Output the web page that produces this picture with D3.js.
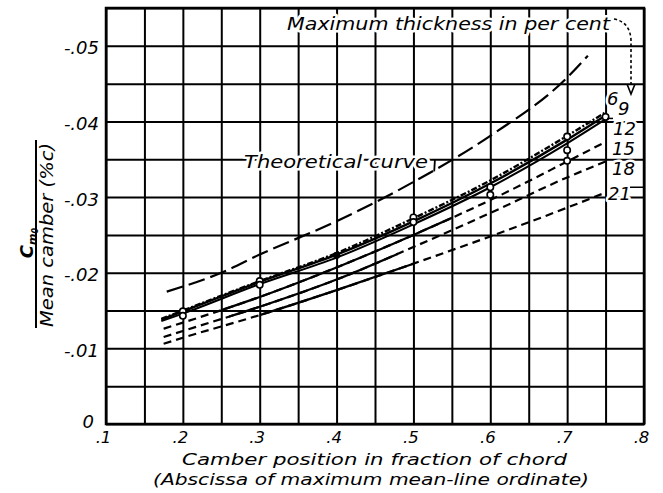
<!DOCTYPE html>
<html><head><meta charset="utf-8">
<script src="https://cdn.jsdelivr.net/npm/d3@7"></script>
<style>
body{margin:0;background:#fff;}
text{font-family:"DejaVu Sans",sans-serif;font-style:oblique;fill:#000;}
</style></head>
<body><svg id="c" width="663" height="493"></svg>
<script>
// ---- data ----
const xGridValues = [.1,.15,.2,.25,.3,.35,.4,.45,.5,.55,.6,.65,.7,.75,.8];
const yGridValues = [0,-.005,-.01,-.015,-.02,-.025,-.03,-.035,-.04,-.045,-.05,-.055];
const xTickValues = [.1,.2,.3,.4,.5,.6,.7,.8];
const xTickLabels = [".1",".2",".3",".4",".5",".6",".7",".8"];
const yTickValues = [0,-.01,-.02,-.03,-.04,-.05];
const yTickLabels = ["0","-.01","-.02","-.03","-.04","-.05"];

const theoX = [.179,.25,.3,.4,.5,.6,.7,.727];
const theoY = [-.0175,-.0200,-.0224,-.0268,-.0320,-.0381,-.0458,-.0487];

const curveX = [.172,.2,.3,.4,.5,.6,.7,.75];
const t6  = [-.0138,-.0149,-.0188,-.0224,-.0268,-.0318,-.0376,-.0408];
const t9  = [-.0139,-.0150,-.0189,-.0226,-.0272,-.0322,-.0381,-.0412];
const t12 = [-.0136,-.0146,-.0185,-.0220,-.0264,-.0313,-.0371,-.0403];
const curveX2 = [.175,.2,.3,.4,.5,.6,.7,.75];
const t15 = [-.0126,-.0134,-.0168,-.0207,-.0250,-.0296,-.0347,-.0373];
const t18 = [-.0115,-.0123,-.0155,-.0191,-.0234,-.0279,-.0326,-.0347];
const t21 = [-.0106,-.0114,-.0144,-.0177,-.0212,-.0248,-.0286,-.0306];

const thicknessLabels = ["6","9","12","15","18","21"];

const pointX = [.2,.2,.3,.3,.5,.5,.6,.6,.7,.7,.7,.75];
const pointY = [-.0149,-.0143,-.0189,-.0184,-.0273,-.0267,-.0313,-.0303,-.0380,-.0362,-.0348,-.0406];
const filledX = [.4];
const filledY = [-.0223];

// ---- chart ----
const svg = d3.select("#c");
const x = d3.scaleLinear().domain([.1,.8]).range([106,644]);
const y = d3.scaleLinear().domain([0,-.055]).range([424,8]);
const H = y(0)-y(-.055), W = x(.8)-x(.1);

// grid via axes
const gx = svg.append("g").attr("transform",`translate(0,${y(0)})`)
  .call(d3.axisBottom(x).tickValues(xGridValues).tickSize(-H).tickFormat(""));
const gy = svg.append("g").attr("transform",`translate(${x(.1)},0)`)
  .call(d3.axisLeft(y).tickValues(yGridValues).tickSize(-W).tickFormat(""));
[gx,gy].forEach(g=>{g.select(".domain").remove();
  g.selectAll(".tick line").attr("stroke","#000").attr("stroke-width",2);});

svg.append("rect").attr("x",x(.1)).attr("y",y(-.055)).attr("width",W).attr("height",H)
  .attr("fill","none").attr("stroke","#000").attr("stroke-width",2.5);

// tick labels via axes
const lx = svg.append("g").attr("transform",`translate(0,${y(0)})`)
  .call(d3.axisBottom(x).tickValues(xTickValues).tickSize(0).tickPadding(6)
    .tickFormat((d,i)=>xTickLabels[i]));
lx.select(".domain").remove();
lx.selectAll("text").attr("font-size",16.5).attr("font-family","DejaVu Sans").attr("dx",-3).attr("dy","0.8em");
const ly = svg.append("g").attr("transform",`translate(${x(.1)},0)`)
  .call(d3.axisLeft(y).tickValues(yTickValues).tickSize(0).tickPadding(7)
    .tickFormat((d,i)=>yTickLabels[i]));
ly.select(".domain").remove();
ly.selectAll("text").attr("font-size",18).attr("font-family","DejaVu Sans").attr("dy","0.45em");
ly.selectAll("text").filter(d=>d===0).attr("dx",-5).attr("dy","0.2em");

// halo helper
function halo(t){ return t.attr("stroke","#fff").attr("stroke-width",5).attr("paint-order","stroke").attr("stroke-linejoin","round"); }

// curves
const line = d3.line().x(d=>x(d[0])).y(d=>y(d[1])).curve(d3.curveMonotoneX);
const zip = (a,b)=>a.map((v,i)=>[v,b[i]]);
const defs = svg.append("defs");
function clip(id,a,b){
  defs.append("clipPath").attr("id",id).append("rect")
    .attr("x",x(a)).attr("y",0).attr("width",x(b)-x(a)).attr("height",493);
  return `url(#${id})`;
}
function dashedSolid(data,a,b,id){
  svg.append("path").attr("d",line(data)).attr("fill","none").attr("stroke","#000")
    .attr("stroke-width",2.2).attr("stroke-dasharray","8,5");
  svg.append("path").attr("d",line(data)).attr("fill","none").attr("stroke","#000")
    .attr("stroke-width",2.2).attr("clip-path",clip(id,a,b));
}

// theoretical
svg.append("path").attr("d",line(zip(theoX,theoY))).attr("fill","none").attr("stroke","#000")
  .attr("stroke-width",2.2).attr("stroke-dasharray","17,6");

svg.append("path").attr("d",line(zip(curveX,t6))).attr("fill","none").attr("stroke","#000").attr("stroke-width",2.4);
svg.append("path").attr("d",line(zip(curveX,t12))).attr("fill","none").attr("stroke","#000").attr("stroke-width",2);
svg.append("path").attr("d",line(zip(curveX,t9))).attr("fill","none").attr("stroke","#000").attr("stroke-width",2.4)
  .attr("stroke-dasharray","6,2,2,2");
dashedSolid(zip(curveX2,t15),.25,.55,"c15");
dashedSolid(zip(curveX2,t18),.26,.48,"c18");
dashedSolid(zip(curveX2,t21),.30,.50,"c21");

// points
svg.selectAll("circle.o").data(zip(pointX,pointY)).join("circle")
  .attr("cx",d=>x(d[0])).attr("cy",d=>y(d[1])).attr("r",3.2)
  .attr("fill","#fff").attr("stroke","#000").attr("stroke-width",1.6);
svg.selectAll("circle.f").data(zip(filledX,filledY)).join("circle")
  .attr("cx",d=>x(d[0])).attr("cy",d=>y(d[1])).attr("r",3.6).attr("fill","#000");

// thickness labels
const labX = [607,618,613,612,612,608];
const labY = [105,115,135,155,175,200];
thicknessLabels.forEach((t,i)=>{
  halo(svg.append("text").attr("x",labX[i]).attr("y",labY[i]).attr("font-size",18).text(t));
});
// leaders
svg.append("line").attr("x1",x(.752)).attr("y1",y(-.0404)).attr("x2",613).attr("y2",y(-.0404))
  .attr("stroke","#000").attr("stroke-width",1.5);
svg.append("line").attr("x1",630).attr("y1",y(-.0313)).attr("x2",x(.8)).attr("y2",y(-.0313))
  .attr("stroke","#000").attr("stroke-width",1.5);

// top annotation
halo(svg.append("text").attr("x",287).attr("y",30).attr("font-size",17.5)
  .attr("textLength",323).attr("lengthAdjust","spacingAndGlyphs").text("Maximum thickness in per cent"));
svg.append("path").attr("d","M614,19 Q630,22 631,40 L631,86")
  .attr("fill","none").attr("stroke","#000").attr("stroke-width",1.6).attr("stroke-dasharray","3,2.5");
svg.append("path").attr("d","M627,84 L631,94 L635,84").attr("fill","none").attr("stroke","#000").attr("stroke-width",1.6);

// theoretical label
halo(svg.append("text").attr("x",244).attr("y",168).attr("font-size",17.5)
  .attr("textLength",184).attr("lengthAdjust","spacingAndGlyphs").text("Theoretical curve"));
svg.append("line").attr("x1",x(.528)).attr("y1",y(-.035)).attr("x2",x(.527)).attr("y2",y(-.0334))
  .attr("stroke","#000").attr("stroke-width",1.8);

// x axis titles
svg.append("text").attr("x",182).attr("y",465).attr("font-size",16.5)
  .attr("textLength",385).attr("lengthAdjust","spacingAndGlyphs").text("Camber position in fraction of chord");
svg.append("text").attr("x",153).attr("y",485).attr("font-size",16.5)
  .attr("textLength",436).attr("lengthAdjust","spacingAndGlyphs").text("(Abscissa of maximum mean-line ordinate)");

// y axis title (fraction)
svg.append("line").attr("x1",36).attr("y1",140).attr("x2",36).attr("y2",328).attr("stroke","#000").attr("stroke-width",2);
svg.append("text").attr("transform","translate(53,235) rotate(-90)").attr("text-anchor","middle")
  .attr("font-size",17.5).attr("textLength",184).attr("lengthAdjust","spacingAndGlyphs").text("Mean camber (%c)");
const num = svg.append("text").attr("transform","translate(33,243) rotate(-90)").attr("text-anchor","middle")
  .attr("font-size",18).attr("font-weight","bold");
num.append("tspan").text("C");
num.append("tspan").attr("font-size",11).attr("dy",3).text("m");
num.append("tspan").attr("font-size",8).attr("dy",2).text("0");
</script></body></html>
